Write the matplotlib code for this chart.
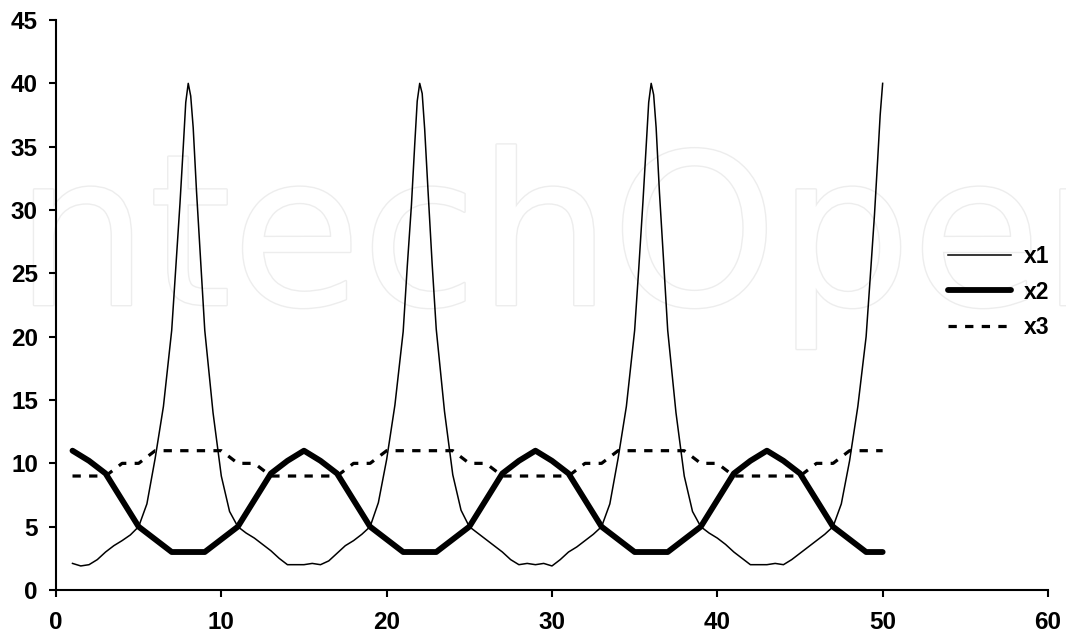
import matplotlib.pyplot as plt
import matplotlib.patheffects as pe

OUTPUT_FILE = "out.png"

# --- dane ---
# x1: cienka linia, szpilki do 40 co 14 jednostek
x1_x = [1, 1.5, 2, 2.5, 3, 3.5, 4, 4.5, 5, 5.5, 6, 6.5, 7, 7.25, 7.5, 7.7, 7.85, 8,
        8.15, 8.3, 8.5, 8.75, 9, 9.5, 10, 10.5, 11, 11.5, 12, 12.5, 13, 13.5, 14, 14.5,
        15, 15.5, 16, 16.5, 17, 17.5, 18, 18.5, 19, 19.5, 20, 20.5, 21, 21.25, 21.5, 21.7, 21.85, 22,
        22.15, 22.3, 22.5, 22.75, 23, 23.5, 24, 24.5, 25, 25.5, 26, 26.5, 27, 27.5, 28, 28.5,
        29, 29.5, 30, 30.5, 31, 31.5, 32, 32.5, 33, 33.5, 34, 34.5, 35, 35.25, 35.5, 35.7, 35.85, 36,
        36.15, 36.3, 36.5, 36.75, 37, 37.5, 38, 38.5, 39, 39.5, 40, 40.5, 41, 41.5, 42, 42.5,
        43, 43.5, 44, 44.5, 45, 45.5, 46, 46.5, 47, 47.5, 48, 48.5, 49, 49.25, 49.5, 49.7, 49.85, 50]
x1_y = [2.1, 1.9, 2.0, 2.4, 3.0, 3.5, 3.9, 4.35, 5.0, 6.8, 10.4, 14.5, 20.5, 25.5, 30.5, 35.0, 38.5, 40.0,
        39.0, 36.5, 31.5, 26.0, 20.5, 14.0, 9.0, 6.2, 5.0, 4.5, 4.1, 3.6, 3.1, 2.5, 2.0, 2.0,
        2.0, 2.1, 2.0, 2.3, 2.9, 3.5, 3.9, 4.4, 5.0, 6.9, 10.3, 14.6, 20.4, 25.6, 30.4, 35.2, 38.6, 40.0,
        39.2, 36.4, 31.6, 25.8, 20.6, 14.1, 9.1, 6.3, 5.0, 4.5, 4.0, 3.5, 3.0, 2.4, 2.0, 2.1,
        2.0, 2.1, 1.9, 2.4, 3.0, 3.4, 3.9, 4.4, 5.0, 6.8, 10.4, 14.5, 20.5, 25.4, 30.6, 35.1, 38.5, 40.0,
        39.1, 36.5, 31.4, 26.0, 20.5, 14.0, 9.0, 6.2, 5.0, 4.5, 4.1, 3.6, 3.0, 2.5, 2.0, 2.0,
        2.0, 2.1, 2.0, 2.4, 2.9, 3.4, 3.9, 4.4, 5.0, 6.8, 10.2, 14.5, 20.0, 24.7, 29.5, 34.0, 37.5, 40.0]

# x2 i x3: wartości w punktach całkowitych 1..50
x23_x = list(range(1, 51))
x2_y = [11.0, 10.2, 9.2, 7.1, 5.0, 4.0, 3.0, 3.0, 3.0, 4.0,
        5.0, 7.1, 9.2, 10.2, 11.0, 10.2, 9.2, 7.1, 5.0, 4.0,
        3.0, 3.0, 3.0, 4.0, 5.0, 7.1, 9.2, 10.2, 11.0, 10.2,
        9.2, 7.1, 5.0, 4.0, 3.0, 3.0, 3.0, 4.0, 5.0, 7.1,
        9.2, 10.2, 11.0, 10.2, 9.2, 7.1, 5.0, 4.0, 3.0, 3.0]
x3_y = [9, 9, 9, 10, 10, 11, 11, 11, 11, 11,
        10, 10, 9, 9, 9, 9, 9, 10, 10, 11,
        11, 11, 11, 11, 10, 10, 9, 9, 9, 9,
        9, 10, 10, 11, 11, 11, 11, 11, 10, 10,
        9, 9, 9, 9, 9, 10, 10, 11, 11, 11]

x_ticks = [0, 10, 20, 30, 40, 50, 60]
y_ticks = [0, 5, 10, 15, 20, 25, 30, 35, 40, 45]

plt.rcParams["font.family"] = ["Liberation Sans", "DejaVu Sans"]
plt.rcParams["font.weight"] = "bold"

fig = plt.figure(figsize=(10.66, 6.4), dpi=100)
ax = fig.add_axes([0.0525, 0.0781, 0.9306, 0.8906])
ax.patch.set_alpha(0)

# znak wodny (jasny kontur)
ax.text(15 / 1066, 1 - 305 / 640, "ntechOpen", transform=fig.transFigure,
        fontsize=152, color="white", fontweight="normal", family="DejaVu Sans",
        zorder=0, clip_on=False,
        path_effects=[pe.Stroke(linewidth=2.0, foreground="#ededed"), pe.Normal()])

ax.plot(x1_x, x1_y, color="black", linewidth=1.1, label="x1", zorder=3)
ax.plot(x23_x, x2_y, color="black", linewidth=4.2, solid_capstyle="round",
        solid_joinstyle="round", label="x2", zorder=4)
ax.plot(x23_x, x3_y, color="black", linewidth=2.3, linestyle=(0, (2.6, 2.6)),
        label="x3", zorder=2)

ax.set_xlim(0, 60)
ax.set_ylim(0, 45)
ax.set_xticks(x_ticks)
ax.set_yticks(y_ticks)

for side in ["top", "right"]:
    ax.spines[side].set_visible(False)
for side in ["left", "bottom"]:
    ax.spines[side].set_linewidth(1.5)

ax.tick_params(axis="both", direction="out", length=5, width=1.5, labelsize=17.5)
ax.tick_params(axis="x", pad=10)
ax.tick_params(axis="y", pad=8)

ax.legend(loc="center left", bbox_to_anchor=(937 / 1066, 1 - 292 / 640),
          bbox_transform=fig.transFigure, frameon=False, borderpad=0,
          handlelength=2.75, handletextpad=0.55, labelspacing=0.55,
          prop={"size": 16.5, "weight": "bold"})

plt.savefig(OUTPUT_FILE, dpi=100)
